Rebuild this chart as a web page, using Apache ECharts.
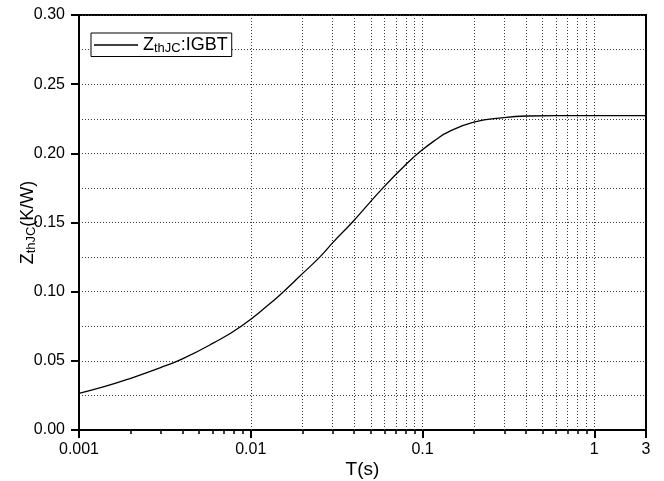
<!DOCTYPE html>
<html>
<head>
<meta charset="utf-8">
<script src="https://cdn.jsdelivr.net/npm/echarts@6/dist/echarts.min.js"></script>
<style>
  html, body { margin: 0; padding: 0; background: #ffffff; }
  #chart { width: 664px; height: 481px; }
</style>
</head>
<body>
<div id="chart"></div>
<script>
// Transient thermal impedance, junction to case, of the IGBT
const timeSec = [0.001, 0.0014, 0.002, 0.003, 0.004, 0.006, 0.0088, 0.013, 0.0155, 0.0194,
                 0.0252, 0.0304, 0.0389, 0.0583, 0.0814, 0.0995, 0.1218, 0.139, 0.199,
                 0.298, 0.408, 0.6, 1, 2];
const zthJC = [0.0265, 0.0313, 0.0374, 0.0452, 0.0514, 0.0626, 0.0750, 0.0916, 0.1000, 0.1115,
               0.1250, 0.1362, 0.1500, 0.1745, 0.1928, 0.2024, 0.2105, 0.2150, 0.2225,
               0.2258, 0.2270, 0.2273, 0.2273, 0.2273];

const seriesLabel = '{m|Z}{s|thJC}{m|:IGBT}';
const yAxisTitle = '{m|Z}{s|thJC}{m|(K/W)}';
const xAxisTitle = 'T(s)';

// x axis: log scale, labelled ticks at each decade and at the axis end
const xRange = [0.001, 2];
const xMajorTicks = [0.001, 0.01, 0.1, 1, 2];
const xTickLabels = ['0.001', '0.01', '0.1', '1', '3'];
const minorSteps = [2, 3, 4, 5, 6, 7, 8, 9];

// y axis
const yRange = [0, 0.30];
const yStep = 0.05;

const FONT = 'Liberation Sans, Arial, sans-serif';
const gridDots = { color: '#3a3a3a', width: 1, type: [1, 2] };

// vertical grid positions: every 1..9 step of each decade inside the range
const xGridValues = [];
xMajorTicks.slice(0, 4).forEach(d => [1].concat(minorSteps).forEach(m => {
  if (d * m < xRange[1]) xGridValues.push(d * m);
}));

// tick positions in log10 units for the tick-drawing axes
const lg = Math.log10;
const majorLog = xMajorTicks.map(lg);
const minorLog = xGridValues.filter(v => !xMajorTicks.includes(v)).map(lg);
const labelFor = v => {
  let best = 0;
  majorLog.forEach((m, i) => { if (Math.abs(m - v) < Math.abs(majorLog[best] - v)) best = i; });
  return xTickLabels[best];
};

const richText = {
  m: { fontFamily: FONT, fontSize: 18, color: '#000' },
  s: { fontFamily: FONT, fontSize: 13, color: '#000', padding: [6, 0, 0, 0] }
};

const chart = echarts.init(document.getElementById('chart'), null, { renderer: 'canvas' });

chart.setOption({
  animation: false,
  backgroundColor: '#ffffff',
  grid: {
    left: 79, right: 18, top: 15, bottom: 51,
    containLabel: false, outerBoundsMode: 'none',
    show: true, borderColor: '#000', borderWidth: 2, backgroundColor: 'transparent'
  },
  legend: {
    left: 91, top: 33,
    data: [{ name: 'igbt', icon: 'rect' }],
    formatter: () => seriesLabel,
    backgroundColor: '#fff',
    borderColor: '#000', borderWidth: 1, borderRadius: 0,
    padding: [3, 4, 2, 3],
    itemWidth: 44, itemHeight: 1.3,
    itemStyle: { color: '#000' },
    textStyle: { fontFamily: FONT, fontSize: 18, color: '#000', rich: richText },
    z: 10
  },
  xAxis: [
    {
      // data axis (log scale) carrying the curve and the vertical grid
      type: 'log', logBase: 10,
      min: xRange[0], max: xRange[1],
      show: false
    },
    {
      // decade ticks and labels, in log10 units
      type: 'value',
      min: lg(xRange[0]), max: lg(xRange[1]),
      position: 'bottom',
      axisLine: { show: true, onZero: false, lineStyle: { color: '#000', width: 2 } },
      axisTick: { show: true, inside: false, length: 8, customValues: majorLog,
                  lineStyle: { color: '#000', width: 2 } },
      axisLabel: { customValues: majorLog, margin: 12, fontFamily: FONT, fontSize: 16,
                   color: '#000', formatter: labelFor },
      splitLine: { show: false },
      name: xAxisTitle, nameLocation: 'middle', nameGap: 30, nameMoveOverlap: false,
      nameTextStyle: { fontFamily: FONT, fontSize: 19, color: '#000' }
    },
    {
      // 2..9 sub-decade ticks
      type: 'value',
      min: lg(xRange[0]), max: lg(xRange[1]),
      position: 'bottom',
      axisLine: { show: false, onZero: false },
      axisTick: { show: true, inside: false, length: 4, customValues: minorLog,
                  lineStyle: { color: '#000', width: 1.5 } },
      axisLabel: { show: false },
      splitLine: { show: false }
    }
  ],
  yAxis: {
    type: 'value',
    min: yRange[0], max: yRange[1], interval: yStep,
    axisLine: { show: true, onZero: false, lineStyle: { color: '#000', width: 2 } },
    axisTick: { show: true, inside: false, length: 8, lineStyle: { color: '#000', width: 2 } },
    axisLabel: { margin: 14, fontFamily: FONT, fontSize: 16, color: '#000',
                 formatter: v => v.toFixed(2) },
    splitLine: { show: true, lineStyle: gridDots },
    minorTick: { show: false, splitNumber: 2 },
    minorSplitLine: { show: true, lineStyle: gridDots },
    name: yAxisTitle, nameLocation: 'middle', nameGap: 41, nameMoveOverlap: false,
    nameTextStyle: { rich: richText }
  },
  series: [{
    name: 'igbt',
    type: 'line',
    xAxisIndex: 0,
    data: timeSec.map((t, i) => [t, zthJC[i]]),
    symbol: 'none',
    smooth: 0.5,
    lineStyle: { color: '#000', width: 1.3 },
    itemStyle: { color: '#000' },
    z: 3,
    markLine: {
      silent: true,
      symbol: ['none', 'none'],
      label: { show: false },
      lineStyle: gridDots,
      z: 1,
      data: xGridValues.map(v => ({ xAxis: v }))
    }
  }]
});
</script>
</body>
</html>
